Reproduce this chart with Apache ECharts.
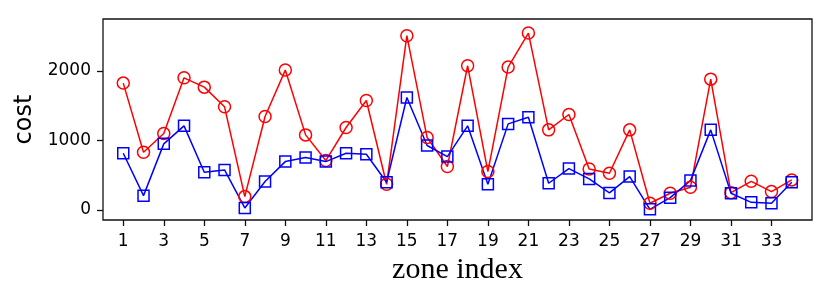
<!DOCTYPE html>
<html>
<head>
<meta charset="utf-8">
<script src="https://cdn.jsdelivr.net/npm/echarts@6/dist/echarts.min.js"></script>
<style>html,body{margin:0;padding:0;background:#fff}#c{width:831px;height:296px}</style>
</head>
<body>
<div id="c"></div>
<script>
var zones = [1,2,3,4,5,6,7,8,9,10,11,12,13,14,15,16,17,18,19,20,21,22,23,24,25,26,27,28,29,30,31,32,33,34];
var redCost = [1823,830,1098,1899,1765,1482,192,1343,2010,1079,710,1185,1573,369,2504,1041,624,2072,552,2053,2542,1151,1372,590,528,1151,96,240,326,1880,249,412,264,432];
var blueCost = [815,206,950,1209,542,575,29,408,695,753,695,815,801,398,1616,926,767,1209,369,1237,1333,384,595,446,245,480,10,177,422,1151,240,110,96,398];
var xTicks = [1,3,5,7,9,11,13,15,17,19,21,23,25,27,29,31,33];
var yTicks = [0,1000,2000];

function pairs(vals){ return zones.map(function(z,i){ return [z, vals[i]]; }); }
var sans = "'DejaVu Sans', sans-serif";

var chart = echarts.init(document.getElementById('c'), null, {renderer:'canvas'});
chart.setOption({
  animation: false,
  grid: {left:103, right:19, top:19, bottom:76, show:true, borderColor:'#111', borderWidth:1.3, backgroundColor:'transparent'},
  xAxis: {
    type:'value', min:0, max:35,
    name:'zone index', nameLocation:'middle', nameGap:35,
    nameTextStyle:{fontFamily:"'Liberation Serif', serif", fontSize:30, color:'#000'},
    axisLine:{show:false, onZero:false},
    splitLine:{show:false},
    axisTick:{show:true, inside:false, length:6, lineStyle:{color:'#111', width:1.3}, customValues:xTicks},
    axisLabel:{customValues:xTicks, fontFamily:sans, fontSize:17, color:'#000', margin:13}
  },
  yAxis: {
    type:'value', min:-144, max:2744,
    name:'cost', nameLocation:'middle', nameGap:63,
    nameTextStyle:{fontFamily:sans, fontSize:24, color:'#000'},
    axisLine:{show:false, onZero:false},
    splitLine:{show:false},
    axisTick:{show:true, inside:false, length:6, lineStyle:{color:'#111', width:1.3}, customValues:yTicks},
    axisLabel:{customValues:yTicks, fontFamily:sans, fontSize:17, color:'#000', margin:12,
      formatter:function(v){ return String(v); }}
  },
  series: [
    {type:'line', data:pairs(redCost), symbol:'circle', symbolSize:12,
     lineStyle:{color:'#ff0000', width:1.5},
     itemStyle:{color:'rgba(0,0,0,0)', borderColor:'#ff0000', borderWidth:1.5}},
    {type:'line', data:pairs(blueCost), symbol:'rect', symbolSize:11,
     lineStyle:{color:'#0000ff', width:1.5},
     itemStyle:{color:'rgba(0,0,0,0)', borderColor:'#0000ff', borderWidth:1.5}}
  ]
});
</script>
</body>
</html>
